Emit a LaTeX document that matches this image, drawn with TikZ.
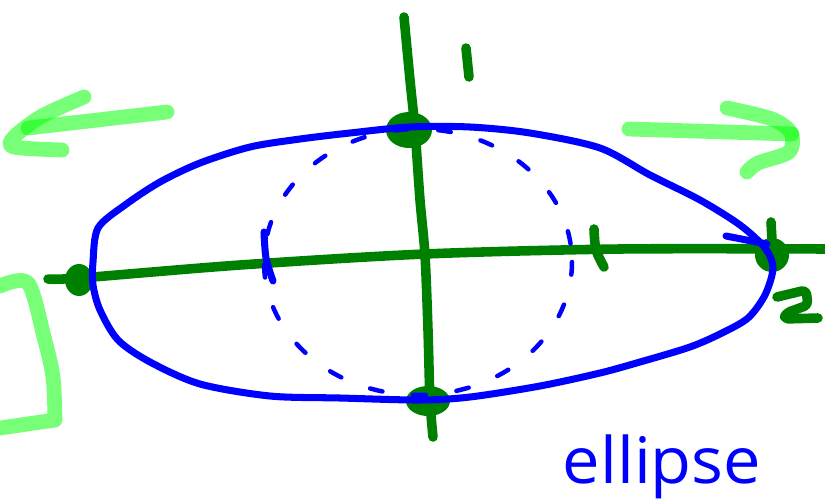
\documentclass[tikz,border=0pt]{standalone}
\usepackage{fontspec}
\newfontfamily\handfont{Open Sans}
\definecolor{pengreen}{RGB}{0,128,0}
\definecolor{penblue}{RGB}{0,0,255}
\definecolor{hilite}{RGB}{0,255,0}
\begin{document}
\begin{tikzpicture}[x=0.025cm,y=-0.025cm,
  axis/.style={draw=pengreen,line width=6.8pt,line cap=round,line join=round},
  blob/.style={fill=pengreen},
  bluepen/.style={draw=penblue,line width=5pt,line cap=round,line join=round},
  dashpen/.style={draw=penblue,line width=3.2pt,line cap=round,dash pattern=on 9pt off 22pt},
  marker/.style={draw=hilite,draw opacity=0.53,line width=10.5pt,line cap=round,line join=round}]
\useasboundingbox (0,0) rectangle (825,502);

% highlighter arrows and bracket
\draw[marker] (167,112) -- (28,128);
\draw[marker] plot[smooth] coordinates {(84,97) (42,116) (14,137) (14,147) (62,150)};
\draw[marker] (629,129) -- (792,134);
\draw[marker] plot[smooth] coordinates {(727,108) (772,119) (791,133) (789,152) (758,163) (747,172)};
\draw[marker] plot[smooth] coordinates {(0,286) (28,283) (44,337) (53,377) (55,420)} -- (0,428);

% axes
\draw[axis] plot[smooth] coordinates {(404,17) (410,80) (415,130) (420,200) (425,255) (428,330) (430,400) (433,437)};
\draw[axis] plot[smooth] coordinates {(48,279) (80,278) (240,265) (425,254) (620,249) (825,249)};
\fill[blob] (409,130) ellipse (23 and 18);
\fill[blob] (428,401) ellipse (22 and 15);
\fill[blob] (79,280) ellipse (14 and 16);
\fill[blob] (772,255) ellipse (17 and 17);
\draw[axis] (771,222) -- (772,240);
% green tick and labels
\draw[axis] plot[smooth] coordinates {(594,229) (596,250) (604,267)};
\draw[axis] (466,48) -- (469,77);
\draw[axis,rounded corners=3pt] (777,297) -- (806,290) -- (808,305) -- (786,313) -- (784,319) -- (818,318);

% dashed circle
\draw[dashpen] (418,262) ellipse (154 and 133);
% blue tick on left
\draw[bluepen] plot[smooth] coordinates {(264,232) (266,258) (273,281)};

% blue ellipse
\draw[bluepen] plot[smooth cycle] coordinates {(93,262) (98,228) (125,205) (160,182) (200,163) (250,147) (300,139) (350,133) (410,127) (470,127) (530,133) (600,148) (650,175) (700,200) (740,225) (765,248) (773,268) (765,295) (748,318) (722,333) (690,347) (640,362) (600,373) (540,386) (470,397) (420,400) (340,398) (270,396) (200,384) (150,362) (118,340) (100,310) (93,285)};
\draw[bluepen] (726,236) -- (767,244);

% label
\node[text=penblue,font=\handfont\fontsize{38}{38}\selectfont,anchor=base] (lbl) at (662,483) {\scalebox{1.25}[1.2]{ellipse}};
\end{tikzpicture}
\end{document}
